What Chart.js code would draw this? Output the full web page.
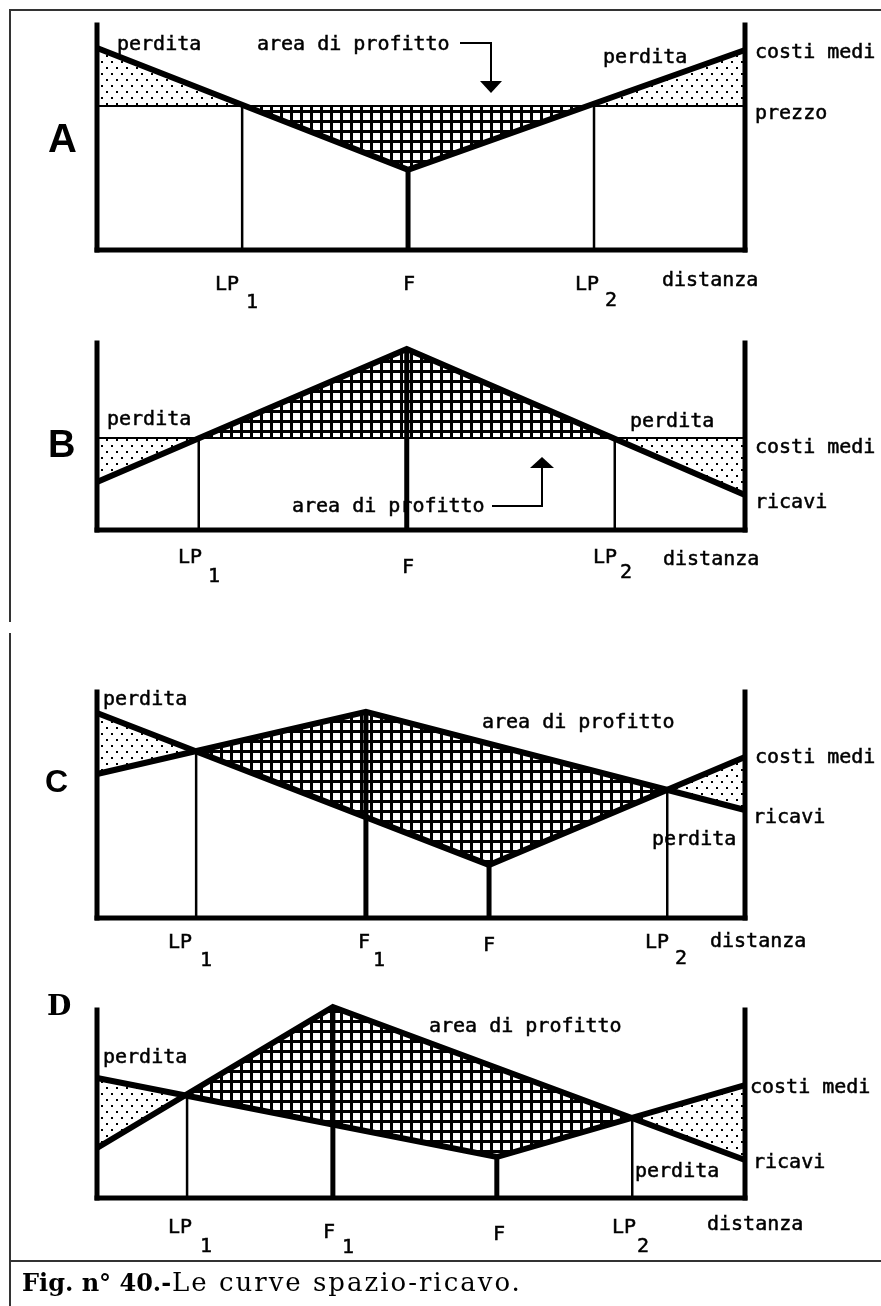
<!DOCTYPE html>
<html lang="it"><head><meta charset="utf-8">
<script src="https://cdn.jsdelivr.net/npm/chart.js@4.4.1/dist/chart.umd.min.js"></script>
<style>
html,body{margin:0;padding:0;background:#fff}
body{width:881px;height:1306px;position:relative;overflow:hidden}
canvas{position:absolute;left:0;top:0}
.fr{position:absolute;background:#333}
</style></head><body>
<canvas id="cA" width="881" height="1306" style="width:881px;height:1306px"></canvas>
<canvas id="cB" width="881" height="1306" style="width:881px;height:1306px"></canvas>
<canvas id="cC" width="881" height="1306" style="width:881px;height:1306px"></canvas>
<canvas id="cD" width="881" height="1306" style="width:881px;height:1306px"></canvas>
<div class="fr" style="left:9px;top:9px;width:872px;height:2px"></div>
<div class="fr" style="left:9px;top:9px;width:2px;height:613px"></div>
<div class="fr" style="left:9px;top:633px;width:2px;height:673px"></div>
<div class="fr" style="left:9px;top:1260px;width:872px;height:2px"></div>
<script>
// ---------------- DATA ----------------
// distance axis: 0 = left axis ... 100 = right axis ; value axis: 0 = base line ... 100 = axis top
const panelLetters = ['A', 'B', 'C', 'D'];

// A : costi medi (V) vs prezzo (flat)
const costA = [[0, 89.8], [48.0, 35.6], [100, 88.9]];
const priceA = [[0, 64.0], [100, 64.0]];
const markA_x = [22.4, 48.0, 76.7];
const markA_top = [64.0, 35.6, 64.0];
const tickA = [['LP', '1'], ['F', ''], ['LP', '2']];
const textA = ['perdita', 'area di profitto', 'perdita', 'costi medi', 'prezzo', 'distanza'];

// B : costi medi (flat) vs ricavi (inverted V)
const costB = [[0, 49.2], [100, 49.2]];
const revB = [[0, 25.7], [47.8, 96.8], [100, 18.7]];
const markB_x = [15.7, 47.8, 79.9];
const markB_top = [49.2, 96.8, 49.2];
const tickB = [['LP', '1'], ['F', ''], ['LP', '2']];
const textB = ['perdita', 'perdita', 'costi medi', 'ricavi', 'area di profitto', 'distanza'];

// C
const costC = [[0, 90.7], [60.5, 23.5], [100, 71.2]];
const revC = [[0, 63.7], [41.5, 91.2], [100, 47.8]];
const markC_x = [15.3, 41.5, 60.5, 88.0];
const markC_top = [73.9, 91.2, 23.5, 56.6];
const tickC = [['LP', '1'], ['F', '1'], ['F', ''], ['LP', '2']];
const textC = ['perdita', 'area di profitto', 'costi medi', 'ricavi', 'perdita', 'distanza'];

// D
const costD = [[0, 63.8], [61.7, 21.8], [100, 60.1]];
const revD = [[0, 26.6], [36.4, 101.6], [100, 20.2]];
const markD_x = [13.9, 36.4, 61.7, 82.6];
const markD_top = [54.8, 101.6, 21.8, 42.6];
const tickD = [['LP', '1'], ['F', '1'], ['F', ''], ['LP', '2']];
const textD = ['perdita', 'area di profitto', 'costi medi', 'ricavi', 'perdita', 'distanza'];

const caption = ['Fig. n° 40.-', 'Le curve spazio-ricavo.'];

// ---------------- LAYOUT / STYLE ----------------
const AX_L = 97, AX_R = 745, PAGE_W = 881, PAGE_H = 1306;
const FONT = '20px "DejaVu Sans Mono"';
const layout = {
  A: { top: 25, bottom: 250, costW: 6, revW: 2,
       letter: [48, 152, 'bold 40px "Liberation Sans"'],
       textPos: [[117, 50], [257, 50], [603, 63], [755, 58], [755, 119], [662, 286]],
       tickPos: [[[215, 290], [246, 308]], [[403, 290]], [[575, 290], [605, 306]]],
       arrows: [{ path: [[460, 43], [491, 43], [491, 81]], tip: [491, 93], hw: 11 }] },
  B: { top: 343, bottom: 530, costW: 2, revW: 6,
       letter: [48, 457, 'bold 38px "Liberation Sans"'],
       textPos: [[107, 425], [630, 427], [755, 453], [755, 508], [292, 512], [663, 565]],
       tickPos: [[[178, 563], [208, 582]], [[402, 573]], [[593, 563], [620, 578]]],
       arrows: [{ path: [[492, 506], [542, 506], [542, 468]], tip: [542, 457], hw: 12 }] },
  C: { top: 692, bottom: 918, costW: 6, revW: 6,
       letter: [45, 792, 'bold 32px "Liberation Sans"'],
       textPos: [[103, 705], [482, 728], [755, 763], [753, 823], [652, 845], [710, 947]],
       tickPos: [[[168, 948], [200, 966]], [[358, 948], [373, 966]], [[483, 951]], [[645, 948], [675, 964]]],
       arrows: [] },
  D: { top: 1010, bottom: 1198, costW: 6, revW: 6,
       letter: [47, 1015, 'bold 28px "DejaVu Serif"'],
       textPos: [[103, 1063], [429, 1032], [750, 1093], [753, 1168], [635, 1177], [707, 1230]],
       tickPos: [[[168, 1233], [200, 1252]], [[323, 1238], [342, 1253]], [[493, 1240]], [[612, 1233], [637, 1252]]],
       arrows: [], caption: true }
};

function P(a) { return a.map(p => ({ x: p[0], y: p[1] })); }
function makePattern(w, h, draw) {
  const c = document.createElement('canvas'); c.width = w; c.height = h;
  const g = c.getContext('2d');
  g.fillStyle = '#fff'; g.fillRect(0, 0, w, h);
  g.fillStyle = '#000'; draw(g);
  return g.createPattern(c, 'repeat');
}
const DOTS = makePattern(10, 12, g => { g.fillRect(1, 1, 2, 2); g.fillRect(6, 7, 2, 2); });
const GRID = makePattern(10, 10, g => { g.fillRect(0, 0, 10, 3); g.fillRect(0, 0, 3, 10); });

function build(id, cost, rev, markX, markTop, ticks, texts) {
  const L = layout[id];
  const base = { pointRadius: 0, borderColor: '#000', tension: 0, clip: false, fill: false, borderJoinStyle: 'miter' };
  const ds = [];
  ds.push(Object.assign({}, base, { data: P(cost), borderWidth: L.costW,
    fill: { target: 1, above: DOTS, below: GRID } }));
  ds.push(Object.assign({}, base, { data: P(rev), borderWidth: L.revW }));
  markX.forEach((x, i) => ds.push(Object.assign({}, base, {
    data: [{ x: x, y: 0 }, { x: x, y: markTop[i] }],
    borderWidth: ticks[i][0] === 'F' ? 5 : 2.5 })));
  // axes
  [[[0, 0], [0, 100]], [[0, 0], [100, 0]], [[100, 0], [100, 100]]].forEach(a =>
    ds.push(Object.assign({}, base, { data: P(a), borderWidth: 5, borderCapStyle: 'square' })));

  const labels = {
    id: 'labels' + id,
    afterDatasetsDraw(chart) {
      const ctx = chart.ctx;
      ctx.save();
      ctx.fillStyle = '#000'; ctx.strokeStyle = '#000';
      ctx.textAlign = 'left'; ctx.textBaseline = 'alphabetic';
      ctx.font = FONT; ctx.lineWidth = 0.5;
      const txt = (t, x, y) => { ctx.fillText(t, x, y); ctx.strokeText(t, x, y); };
      texts.forEach((t, i) => txt(t, L.textPos[i][0], L.textPos[i][1]));
      ticks.forEach((tk, i) => {
        const tp = L.tickPos[i];
        txt(tk[0], tp[0][0], tp[0][1]);
        if (tk[1]) txt(tk[1], tp[1][0], tp[1][1]);
      });
      ctx.font = L.letter[2];
      ctx.fillText(panelLetters[['A','B','C','D'].indexOf(id)], L.letter[0], L.letter[1]);
      L.arrows.forEach(a => {
        ctx.lineWidth = 2; ctx.beginPath();
        a.path.forEach((p, k) => k ? ctx.lineTo(p[0], p[1]) : ctx.moveTo(p[0], p[1]));
        ctx.stroke();
        const last = a.path[a.path.length - 1];
        ctx.beginPath();
        ctx.moveTo(last[0] - a.hw, last[1]); ctx.lineTo(last[0] + a.hw, last[1]);
        ctx.lineTo(a.tip[0], a.tip[1]); ctx.closePath(); ctx.fill();
      });
      if (L.caption) {
        ctx.font = 'bold 24px "DejaVu Serif"';
        ctx.fillText(caption[0], 22, 1291);
        ctx.font = '26px "DejaVu Serif"';
        try { ctx.letterSpacing = '2px'; } catch (e) {}
        ctx.fillText(caption[1], 172, 1291);
      }
      ctx.restore();
    }
  };

  return new Chart(document.getElementById('c' + id), {
    type: 'line',
    data: { datasets: ds },
    options: {
      responsive: false, animation: false, devicePixelRatio: 1, events: [],
      layout: { padding: { left: AX_L, right: PAGE_W - AX_R, top: L.top, bottom: PAGE_H - L.bottom } },
      scales: {
        x: { type: 'linear', min: 0, max: 100, display: false },
        y: { type: 'linear', min: 0, max: 100, display: false }
      },
      plugins: { legend: { display: false }, tooltip: { enabled: false }, filler: { drawTime: 'beforeDatasetsDraw' } }
    },
    plugins: [labels]
  });
}

build('A', costA, priceA, markA_x, markA_top, tickA, textA);
build('B', costB, revB, markB_x, markB_top, tickB, textB);
build('C', costC, revC, markC_x, markC_top, tickC, textC);
build('D', costD, revD, markD_x, markD_top, tickD, textD);
</script>
</body></html>
